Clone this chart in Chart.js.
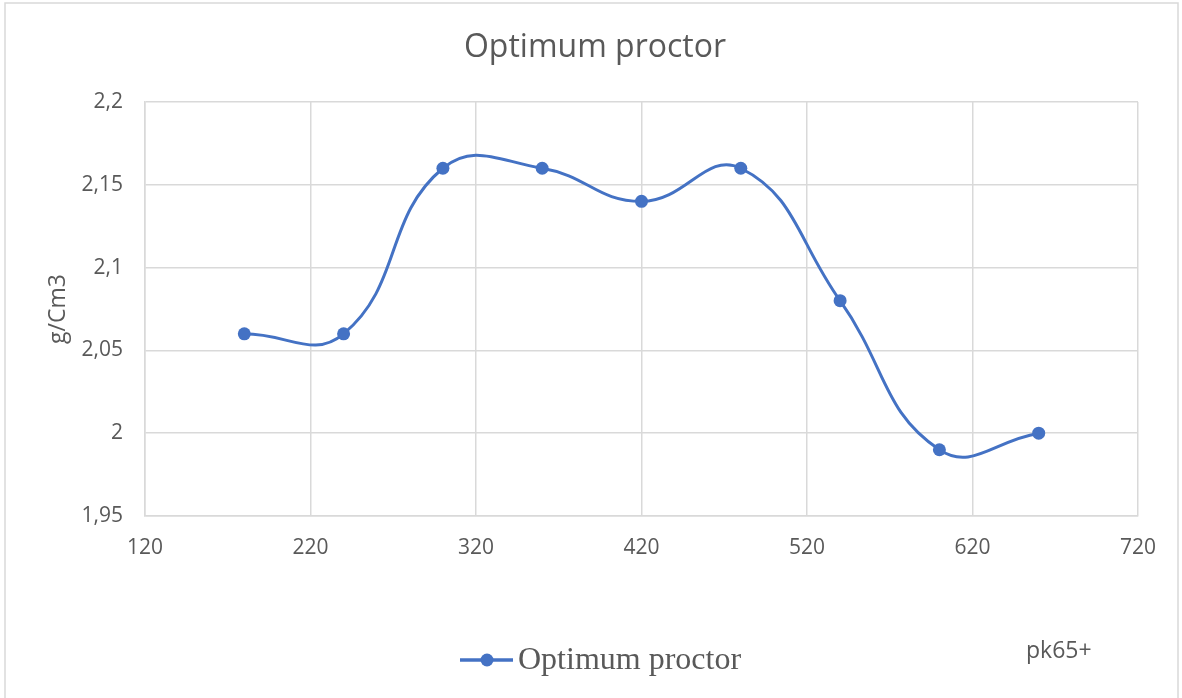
<!DOCTYPE html>
<html>
<head>
<meta charset="utf-8">
<title>Optimum proctor</title>
<script src="https://cdn.jsdelivr.net/npm/chart.js@4.4.0/dist/chart.umd.min.js"></script>
<style>
  html, body { margin: 0; padding: 0; background: #fff; }
  #wrap { position: relative; width: 1182px; height: 698px; }
</style>
</head>
<body>
<div id="wrap"><canvas id="proctor" width="1182" height="698"></canvas></div>
<script>
// pk positions (m) and dry density (g/Cm3)
const positions = [180, 240, 300, 360, 420, 480, 540, 600, 660];
const densities = [2.06, 2.06, 2.16, 2.16, 2.14, 2.16, 2.08, 1.99, 2.00];
const xTicks = [120, 220, 320, 420, 520, 620, 720];
const yTicks = [1.95, 2.0, 2.05, 2.1, 2.15, 2.2];

const seriesName = 'Optimum proctor';
const blue = '#4472C4';
const grey = '#595959';
const gridColor = '#d9d9d9';
const sans = '"Open Sans", "Liberation Sans", sans-serif';

const points = positions.map((x, i) => ({ x: x, y: densities[i] }));
const comma = v => String(+(+v).toFixed(2)).replace('.', ',');

// outer frame, title, legend entry and the pk label
const decor = {
    id: 'decor',
    beforeDraw(chart) {
        const ctx = chart.ctx;
        ctx.save();
        ctx.strokeStyle = gridColor;
        ctx.lineWidth = 1.5;
        ctx.strokeRect(5, 3, 1173, 710);
        ctx.restore();
    },
    afterDraw(chart) {
        const ctx = chart.ctx;
        ctx.save();
        ctx.fillStyle = grey;
        ctx.textBaseline = 'middle';
        ctx.textAlign = 'center';
        ctx.font = '32px ' + sans;
        ctx.fillText(seriesName, 595, 48);

        const ly = 660;
        ctx.strokeStyle = blue;
        ctx.lineWidth = 3.5;
        ctx.beginPath();
        ctx.moveTo(460, ly);
        ctx.lineTo(513, ly);
        ctx.stroke();
        ctx.fillStyle = blue;
        ctx.beginPath();
        ctx.arc(487, ly, 6.5, 0, Math.PI * 2);
        ctx.fill();

        ctx.fillStyle = grey;
        ctx.textAlign = 'left';
        ctx.font = '32px "Liberation Serif", serif';
        ctx.fillText(seriesName, 518, ly + 1);

        ctx.font = '23px ' + sans;
        ctx.fillText('pk65+', 1026, 651);
        ctx.restore();
    }
};

new Chart(document.getElementById('proctor'), {
    type: 'line',
    data: {
        datasets: [{
            label: seriesName,
            data: points,
            borderColor: blue,
            backgroundColor: blue,
            borderWidth: 3,
            pointRadius: 6.5,
            pointHoverRadius: 6.5,
            pointBackgroundColor: blue,
            pointBorderWidth: 0,
            tension: 0.45,
            fill: false
        }]
    },
    options: {
        responsive: false,
        animation: false,
        layout: { padding: { top: 102, right: 44, bottom: 0, left: 0 } },
        plugins: {
            legend: { display: false },
            tooltip: { enabled: false },
            title: { display: false }
        },
        scales: {
            x: {
                type: 'linear',
                min: xTicks[0],
                max: xTicks[xTicks.length - 1],
                afterBuildTicks: s => { s.ticks = xTicks.map(v => ({ value: v })); },
                afterFit: s => { s.height = 182; },
                grid: { color: gridColor, lineWidth: 1.5, drawTicks: false },
                border: { color: gridColor, width: 1.5 },
                ticks: {
                    color: grey,
                    font: { family: sans, size: 21 },
                    padding: 19,
                    maxRotation: 0
                }
            },
            y: {
                min: yTicks[0],
                max: yTicks[yTicks.length - 1],
                afterBuildTicks: s => { s.ticks = yTicks.map(v => ({ value: v })); },
                afterFit: s => { s.width = 145; },
                grid: { color: gridColor, lineWidth: 1.5, drawTicks: false },
                border: { color: gridColor, width: 1.5 },
                ticks: {
                    color: grey,
                    font: { family: sans, size: 21 },
                    padding: 22,
                    callback: v => comma(v)
                },
                title: {
                    display: true,
                    text: 'g/Cm3',
                    color: grey,
                    font: { family: sans, size: 23 },
                    padding: { top: 45 }
                }
            }
        }
    },
    plugins: [decor]
});
</script>
</body>
</html>
